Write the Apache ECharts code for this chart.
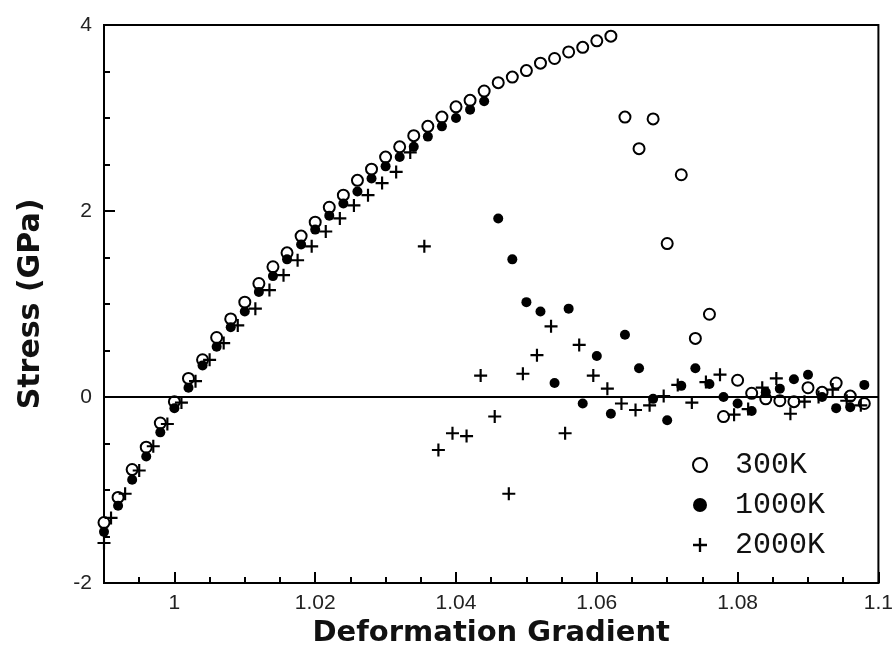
<!DOCTYPE html>
<html>
<head>
<meta charset="utf-8">
<script src="https://cdn.jsdelivr.net/npm/echarts@6/dist/echarts.min.js"></script>
<style>html,body{margin:0;padding:0;background:#fff}#c{width:896px;height:656px}</style>
</head>
<body>
<div id="c"></div>
<script>
var seriesNames = ['300K', '1000K', '2000K'];
var xTickLabels = [1, 1.02, 1.04, 1.06, 1.08, 1.1];
var yTickLabels = [-2, 0, 2, 4];

var x300 = [0.990,0.992,0.994,0.996,0.998,1.000,1.002,1.004,1.006,1.008,1.010,1.012,1.014,1.016,1.018,1.020,1.022,1.024,1.026,1.028,1.030,1.032,1.034,1.036,1.038,1.040,1.042,1.044,1.046,1.048,1.050,1.052,1.054,1.056,1.058,1.060,1.062,1.064,1.066,1.068,1.070,1.072,1.074,1.076,1.078,1.080,1.082,1.084,1.086,1.088,1.090,1.092,1.094,1.096,1.098];
var y300 = [-1.35,-1.08,-0.78,-0.54,-0.28,-0.05,0.20,0.40,0.64,0.84,1.02,1.22,1.40,1.55,1.73,1.88,2.04,2.17,2.33,2.45,2.58,2.69,2.81,2.91,3.01,3.12,3.19,3.29,3.38,3.44,3.51,3.59,3.64,3.71,3.76,3.83,3.88,3.01,2.67,2.99,1.65,2.39,0.63,0.89,-0.21,0.18,0.04,-0.02,-0.04,-0.05,0.10,0.05,0.15,0.01,-0.07];

var x1000 = [0.990,0.992,0.994,0.996,0.998,1.000,1.002,1.004,1.006,1.008,1.010,1.012,1.014,1.016,1.018,1.020,1.022,1.024,1.026,1.028,1.030,1.032,1.034,1.036,1.038,1.040,1.042,1.044,1.046,1.048,1.050,1.052,1.054,1.056,1.058,1.060,1.062,1.064,1.066,1.068,1.070,1.072,1.074,1.076,1.078,1.080,1.082,1.084,1.086,1.088,1.090,1.092,1.094,1.096,1.098];
var y1000 = [-1.45,-1.17,-0.89,-0.64,-0.38,-0.12,0.10,0.34,0.54,0.75,0.92,1.13,1.30,1.48,1.64,1.80,1.95,2.08,2.21,2.35,2.48,2.58,2.69,2.80,2.91,3.00,3.09,3.18,1.92,1.48,1.02,0.92,0.15,0.95,-0.07,0.44,-0.18,0.67,0.31,-0.02,-0.25,0.12,0.31,0.14,0.00,-0.07,-0.15,0.05,0.09,0.19,0.24,0.00,-0.12,-0.11,0.13];

var x2000 = [0.990,0.991,0.993,0.995,0.997,0.999,1.001,1.003,1.005,1.007,1.009,1.0115,1.0135,1.0155,1.0175,1.0195,1.0215,1.0235,1.0255,1.0275,1.0295,1.0315,1.0335,1.0355,1.0375,1.0395,1.0415,1.0435,1.0455,1.0475,1.0495,1.0515,1.0535,1.0555,1.0575,1.0595,1.0615,1.0635,1.0655,1.0675,1.0695,1.0715,1.0735,1.0755,1.0775,1.0795,1.0815,1.0835,1.0855,1.0875,1.0895,1.0915,1.0935,1.0955,1.0975];
var y2000 = [-1.57,-1.30,-1.04,-0.79,-0.53,-0.29,-0.06,0.17,0.40,0.58,0.77,0.95,1.15,1.31,1.47,1.62,1.78,1.92,2.06,2.17,2.30,2.42,2.63,1.62,-0.57,-0.39,-0.42,0.23,-0.21,-1.04,0.25,0.45,0.76,-0.39,0.56,0.23,0.09,-0.07,-0.14,-0.09,0.01,0.13,-0.06,0.16,0.24,-0.19,-0.13,0.10,0.20,-0.18,-0.05,0.00,0.08,-0.04,-0.09];

function zip(xs, ys) { return xs.map(function (x, i) { return [x, ys[i]]; }); }

var plusPath = 'path://M-1,-6H1V-1H6V1H1V6H-1V1H-6V-1H-1Z';
var sansFont = '"Liberation Sans", Arial, sans-serif';
var titleFont = '"DejaVu Sans", "Liberation Sans", Arial, sans-serif';

var chart = echarts.init(document.getElementById('c'), null, { renderer: 'canvas' });
chart.setOption({
  animation: false,
  backgroundColor: '#fff',
  grid: { left: 104, right: 16, top: 25, bottom: 73, show: true, borderColor: '#000', borderWidth: 2, containLabel: false },
  legend: {
    orient: 'vertical',
    left: 687,
    top: 445,
    itemGap: 10,
    itemWidth: 16,
    itemHeight: 14,
    textStyle: { fontFamily: '"Liberation Mono", "Courier New", monospace', fontSize: 30, lineHeight: 30, color: '#111', padding: [0, 0, 0, 22] },
    data: [
      { name: '300K', icon: 'circle', itemStyle: { color: '#fff', borderColor: '#000', borderWidth: 2 } },
      { name: '1000K', icon: 'circle', itemStyle: { color: '#000' } },
      { name: '2000K', icon: plusPath, itemStyle: { color: '#000' } }
    ]
  },
  xAxis: [
    {
      type: 'value', min: 0.99, max: 1.1, interval: 0.005,
      name: 'Deformation Gradient', nameLocation: 'middle', nameGap: 36,
      nameTextStyle: { fontFamily: titleFont, fontSize: 29, fontWeight: 'bold', color: '#111' },
      axisLine: { show: true, onZero: false, lineStyle: { color: '#000', width: 2 } },
      axisTick: { show: true, inside: true, length: 6, lineStyle: { color: '#000', width: 2 } },
      axisLabel: { customValues: xTickLabels, margin: 10, fontFamily: sansFont, fontSize: 21, color: '#222',
        formatter: function (v) { return String(Math.round(v * 100) / 100); } },
      splitLine: { show: false }
    },
    {
      type: 'value', min: 0.99, max: 1.1, position: 'bottom',
      axisLine: { show: false, onZero: false },
      axisTick: { show: true, inside: true, length: 11, customValues: xTickLabels, lineStyle: { color: '#000', width: 2 } },
      axisLabel: { show: false },
      splitLine: { show: false }
    }
  ],
  yAxis: {
    type: 'value', min: -2, max: 4, interval: 2,
    name: 'Stress (GPa)', nameLocation: 'middle', nameGap: 58,
    nameTextStyle: { fontFamily: titleFont, fontSize: 30, fontWeight: 'bold', color: '#111' },
    axisLine: { show: true, onZero: false, lineStyle: { color: '#000', width: 2 } },
    axisTick: { show: true, inside: true, length: 11, lineStyle: { color: '#000', width: 2 } },
    minorTick: { show: true, splitNumber: 4, length: 6, lineStyle: { color: '#000', width: 2 } },
    axisLabel: { customValues: yTickLabels, margin: 12, fontFamily: sansFont, fontSize: 21, color: '#222' },
    splitLine: { show: false }
  },
  series: [
    {
      name: '300K', type: 'scatter', clip: false, symbol: 'circle', symbolSize: 11,
      itemStyle: { color: '#fff', borderColor: '#000', borderWidth: 2, opacity: 1 },
      data: zip(x300, y300), z: 3,
      markLine: {
        silent: true, symbol: 'none', label: { show: false },
        lineStyle: { color: '#000', width: 2, type: 'solid' },
        data: [{ yAxis: 0 }]
      }
    },
    {
      name: '1000K', type: 'scatter', clip: false, symbol: 'circle', symbolSize: 10,
      itemStyle: { color: '#000', opacity: 1 },
      data: zip(x1000, y1000), z: 4
    },
    {
      name: '2000K', type: 'scatter', clip: false, symbol: plusPath, symbolSize: 13,
      itemStyle: { color: '#000', opacity: 1 },
      data: zip(x2000, y2000), z: 5
    }
  ]
});
</script>
</body>
</html>
